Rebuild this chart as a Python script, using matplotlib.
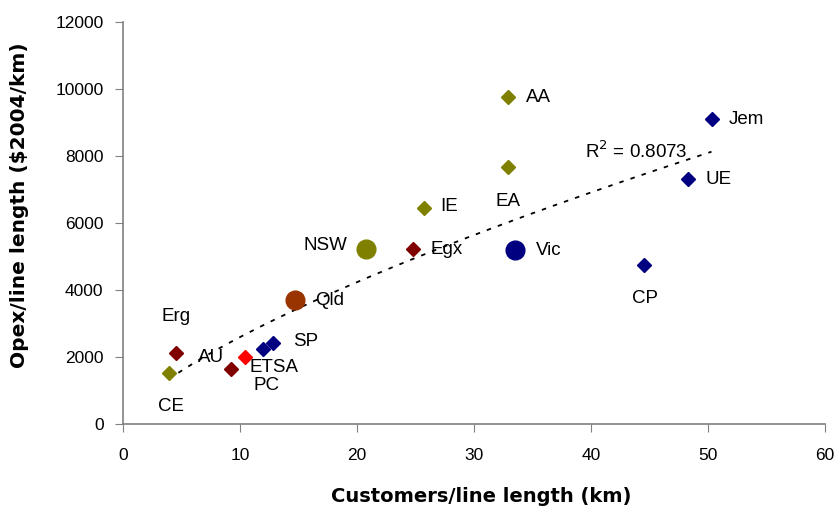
import matplotlib
matplotlib.use("Agg")
import matplotlib.pyplot as plt
import numpy as np

plt.rcParams['font.family'] = ['Liberation Sans', 'DejaVu Sans']

names = ["CE", "Erg", "AU", "ETSA", "PC", "SP", "Qld", "NSW", "Egx", "IE",
         "Vic", "AA", "EA", "CP", "UE", "Jem"]
cust = [3.9, 4.5, 9.2, 10.4, 12.0, 12.8, 14.7, 20.8, 24.8, 25.7,
        33.5, 32.9, 32.9, 44.5, 48.3, 50.3]
opex = [1520, 2120, 1640, 2000, 2240, 2420, 3700, 5230, 5220, 6450,
        5190, 9760, 7670, 4740, 7310, 9100]
colors = ["#808000", "#800000", "#800000", "#FF0000", "#000080", "#000080",
          "#993300", "#808000", "#800000", "#808000", "#000080", "#808000",
          "#808000", "#000080", "#000080", "#000080"]
shapes = ["D", "D", "D", "D", "D", "D", "o", "o", "D", "D",
          "o", "D", "D", "D", "D", "D"]
r2_text = "R$^2$ = 0.8073"

# label offsets in pixels (dx right, dy up) and horizontal alignment
label_off = {
    "CE": (2, -33, "center"), "Erg": (0, 36, "center"), "AU": (-33, 12, "left"),
    "ETSA": (5, -10, "left"), "PC": (-10, -37, "left"), "SP": (20, 1, "left"),
    "Qld": (20, 0, "left"), "NSW": (-19, 3, "right"), "Egx": (17, 0, "left"),
    "IE": (17, 1, "left"), "Vic": (21, 0, "left"), "AA": (18, 0, "left"),
    "EA": (0, -34, "center"), "CP": (1, -33, "center"), "UE": (17, 0, "left"),
    "Jem": (17, 0, "left"),
}

fig = plt.figure(figsize=(8.37, 5.11), dpi=100)
ax = fig.add_axes([123/837, 1-424/511, (825-123)/837, (424-22)/511])

for n, x, y, c, s in zip(names, cust, opex, colors, shapes):
    ms = 13.5 if s == "o" else 7.5
    ax.plot([x], [y], marker=s, color=c, markersize=ms, linestyle="none", zorder=3)
    dx, dy, ha = label_off[n]
    ax.annotate(n, (x, y), xytext=(dx * 0.72, dy * 0.72), textcoords="offset points",
                ha=ha, va="center", fontsize=13.5, color="black", zorder=4)

# power trend line (fit in log-log space, like a spreadsheet power trendline)
b, lna = np.polyfit(np.log(cust), np.log(opex), 1)
xs = np.linspace(min(cust), max(cust), 200)
ax.plot(xs, np.exp(lna) * xs ** b, color="black", linestyle=(0, (2.5, 4)),
        linewidth=1.3, zorder=2)
ax.text(39.5, 8150, r2_text, fontsize=13.5, ha="left", va="center")

ax.set_xlim(0, 60)
ax.set_ylim(0, 12000)
ax.set_xticks(range(0, 61, 10))
ax.set_yticks(range(0, 12001, 2000))
for sp in ["top", "right"]:
    ax.spines[sp].set_visible(False)
for sp in ["left", "bottom"]:
    ax.spines[sp].set_color("#808080")
    ax.spines[sp].set_linewidth(1.2)
ax.tick_params(direction="out", length=6, color="#808080", labelsize=12.5)
ax.tick_params(axis="x", pad=11)
ax.tick_params(axis="y", pad=8)
ax.set_xlabel("Customers/line length (km)", fontsize=14, fontweight="bold",
              family=["DejaVu Sans"], va="center", ha="center")
ax.set_ylabel("Opex/line length ($2004/km)", fontsize=14.5, fontweight="bold",
              family=["DejaVu Sans"], va="center", ha="center")
ax.xaxis.set_label_coords((481 - 123) / 702, (424 - 497) / 402)
ax.yaxis.set_label_coords((20 - 123) / 702, (424 - 205) / 402)

fig.savefig("out.png", dpi=100)
